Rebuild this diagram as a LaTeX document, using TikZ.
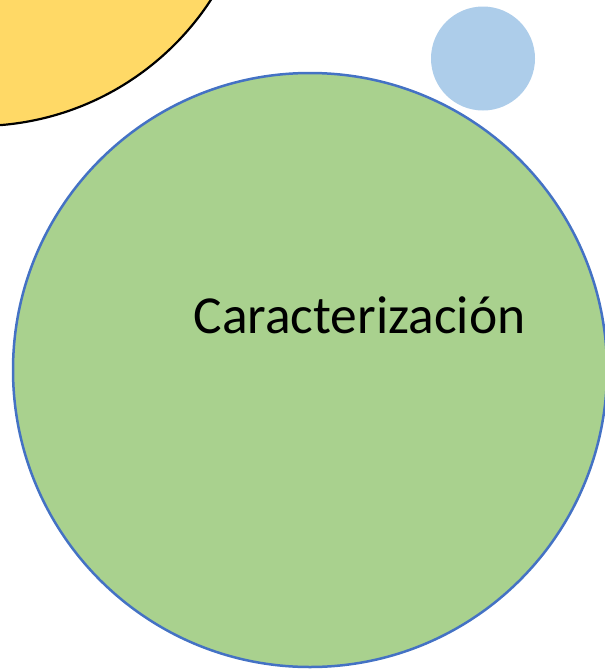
\documentclass[tikz,border=0pt]{standalone}
\usepackage{fontspec}
\setmainfont{Carlito}
\definecolor{solyellow}{HTML}{FFD966}
\definecolor{caracgreen}{HTML}{A9D18E}
\definecolor{caracedge}{HTML}{4472C4}
\definecolor{puntoblue}{HTML}{ADCDEA}

\tikzset{
    bubble/.style={circle, inner sep=0pt, outer sep=0pt},
    bubbletext/.style={font=\fontsize{53.5}{60}\selectfont, text=black}
}

\begin{document}
\begin{tikzpicture}[x=1pt, y=-1pt]
    \useasboundingbox (0,0) rectangle (605,670);
    \clip (0,0) rectangle (605,670);
    \node[bubble, fill=solyellow, draw=black, line width=2.2pt, minimum size=556pt] (sol) at (-22,-152) {};
    \node[bubble, fill=puntoblue, minimum size=104pt] (punto) at (483,58.5) {};
    \node[bubble, fill=caracgreen, draw=caracedge, line width=2.5pt, minimum size=594pt] (carac) at (310,370) {};
    \node[bubbletext, anchor=base] (caractxt) at (359.5,333) {Caracterización};
\end{tikzpicture}
\end{document}
